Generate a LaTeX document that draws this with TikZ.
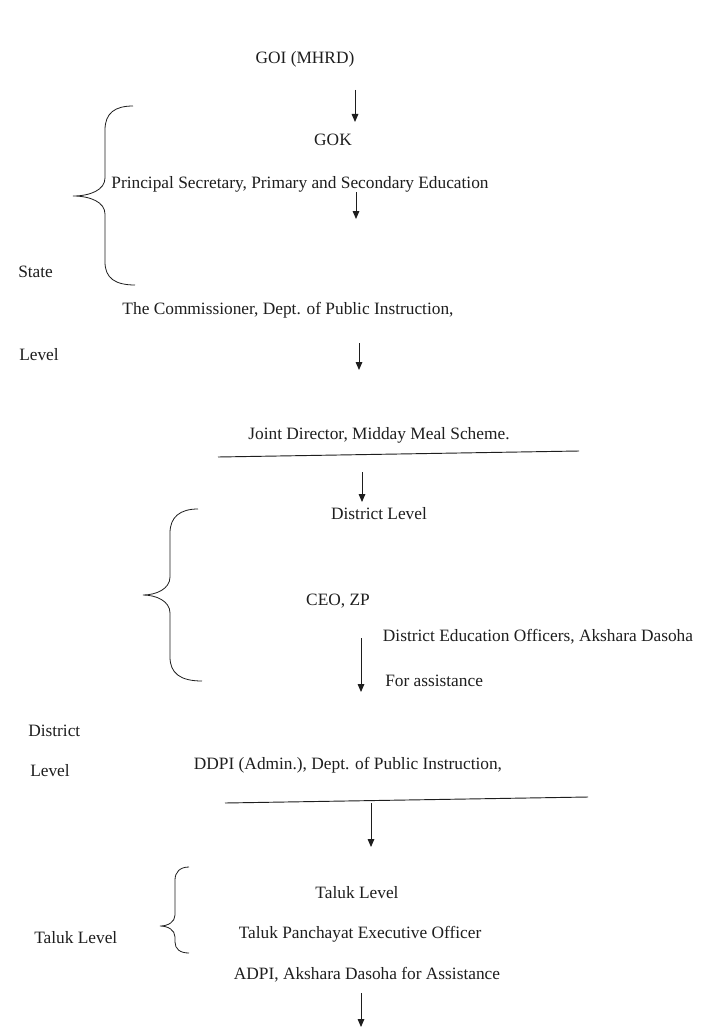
\documentclass[tikz,border=0pt]{standalone}
\usepackage{fontspec}
\setmainfont{Liberation Serif}
\usetikzlibrary{arrows.meta}
\definecolor{ink}{HTML}{1E1E1E}
\begin{document}
\begin{tikzpicture}[x=0.75pt,y=-0.75pt,
  lbl/.style={inner sep=0pt,anchor=base,text=ink,font=\fontsize{13}{15}\selectfont},
  lblw/.style={lbl,anchor=base west},
  flow/.style={draw=ink,line width=0.7pt,-{Triangle[length=6pt,width=5pt]}},
  rule/.style={draw=ink,line width=0.7pt},
  brace/.style={draw=ink,line width=0.6pt}]
\useasboundingbox[fill=white] (0,0) rectangle (707,1027);
% texts
\node[lbl] (goi) at (305,64) {GOI (MHRD)};
\node[lbl] (gok) at (333,146) {GOK};
\node[lbl] (ps) at (300,188) {Principal Secretary, Primary and Secondary Education};
\node[lblw] (state) at (18,277) {State};
\node[lbl] (comm) at (288,314) {The Commissioner, Dept. of Public Instruction,};
\node[lblw] (lev1) at (19,360) {Level};
\node[lbl] (jd) at (379,439) {Joint Director, Midday Meal Scheme.};
\node[lbl] (dl) at (379,519) {District Level};
\node[lbl] (ceo) at (338,605) {CEO, ZP};
\node[lbl] (deo) at (538,641) {District Education Officers, Akshara Dasoha};
\node[lblw] (fa) at (385,686) {For assistance};
\node[lblw] (dist) at (28,736) {District};
\node[lblw] (lev2) at (30,776) {Level};
\node[lbl] (ddpi) at (348,769) {DDPI (Admin.), Dept. of Public Instruction,};
\node[lbl] (tl) at (357,898) {Taluk Level};
\node[lblw] (tll) at (34,943) {Taluk Level};
\node[lbl] (tpeo) at (360,938) {Taluk Panchayat Executive Officer};
\node[lbl] (adpi) at (367,979) {ADPI, Akshara Dasoha for Assistance};
% arrow end points
\coordinate (a1s) at (355,90);  \coordinate (a1e) at (355,122);
\coordinate (a2s) at (356,192); \coordinate (a2e) at (356,219);
\coordinate (a3s) at (359,343); \coordinate (a3e) at (359,370);
\coordinate (a4s) at (362,472); \coordinate (a4e) at (362,502);
\coordinate (a5s) at (361,638); \coordinate (a5e) at (361,692);
\coordinate (a6s) at (371,803); \coordinate (a6e) at (371,847);
\coordinate (a7s) at (361,993); \coordinate (a7e) at (361,1027);
\draw[flow] (a1s) -- (a1e);
\draw[flow] (a2s) -- (a2e);
\draw[flow] (a3s) -- (a3e);
\draw[flow] (a4s) -- (a4e);
\draw[flow] (a5s) -- (a5e);
\draw[flow] (a6s) -- (a6e);
\draw[flow] (a7s) -- (a7e);
% horizontal rules
\coordinate (r1a) at (218,457); \coordinate (r1b) at (579,451);
\coordinate (r2a) at (225,803); \coordinate (r2b) at (588,797);
\draw[rule] (r1a) -- (r1b);
\draw[rule] (r2a) -- (r2b);
% braces
\draw[brace] (133,106) .. controls (115,106) and (105,113) .. (105,130) -- (105,178)
  .. controls (105,190) and (90,196) .. (73,196)
  .. controls (90,196) and (105,202) .. (105,214) -- (105,262)
  .. controls (105,278) and (115,285) .. (135,285);
\draw[brace] (198,509) .. controls (180,509) and (170,517) .. (170,533) -- (170,577)
  .. controls (170,589) and (156,595) .. (143,595)
  .. controls (156,595) and (170,601) .. (170,613) -- (170,657)
  .. controls (170,673) and (180,681) .. (202,681);
\draw[brace] (189,867) .. controls (180,867) and (175,872) .. (175,880) -- (175,915)
  .. controls (175,922) and (168,926) .. (160,926)
  .. controls (168,926) and (175,930) .. (175,937) -- (175,942)
  .. controls (175,949) and (180,953) .. (189,953);
\end{tikzpicture}
\end{document}
